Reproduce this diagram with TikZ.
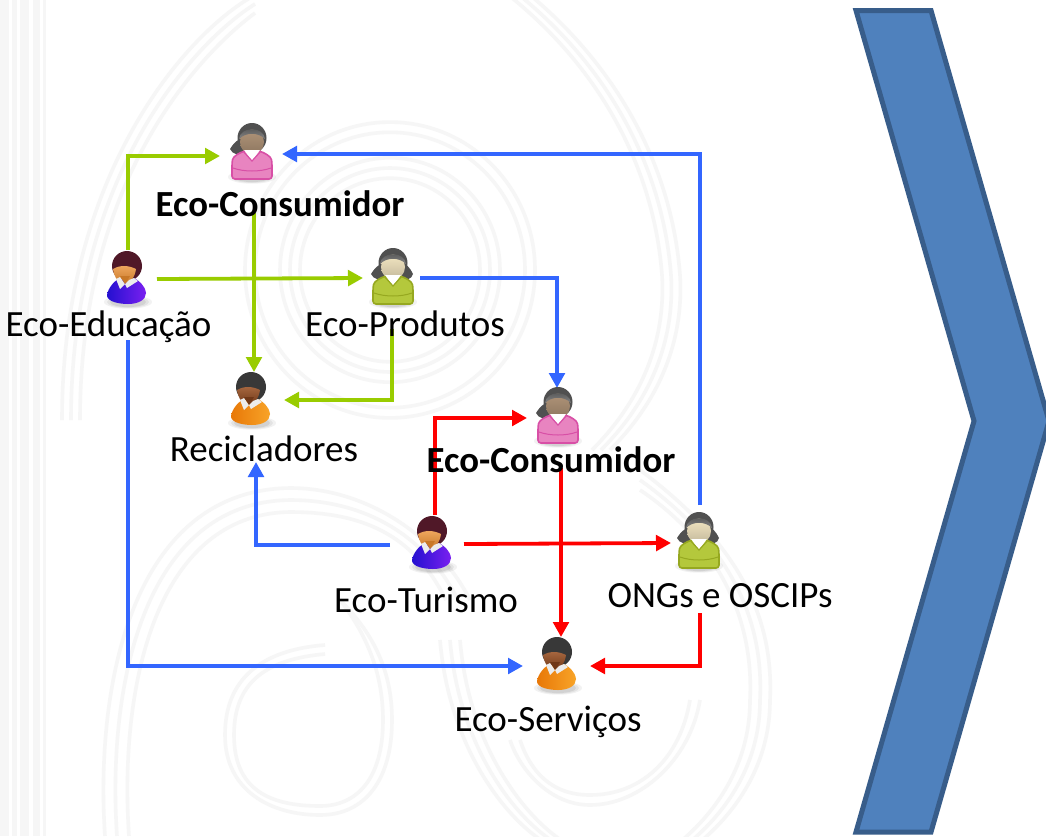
\documentclass[tikz,border=0pt]{standalone}
\usepackage{fontspec}
\setmainfont{Carlito}
\usetikzlibrary{arrows.meta}
\definecolor{wm}{HTML}{F6F6F6}
\definecolor{gline}{HTML}{99CC00}
\definecolor{bline}{HTML}{3366FF}
\definecolor{rline}{HTML}{FF0000}
\definecolor{chevfill}{HTML}{4F81BD}
\definecolor{chevedge}{HTML}{385D8A}
\definecolor{pinkL}{HTML}{E884C0}
\definecolor{pinkD}{HTML}{D84FA6}
\definecolor{skinW}{HTML}{B09478}
\definecolor{hairW}{HTML}{505050}
\definecolor{oliveL}{HTML}{B4C83C}
\definecolor{oliveD}{HTML}{96A820}
\definecolor{skinG}{HTML}{F3E6C2}
\definecolor{blueL}{HTML}{7A20F0}
\definecolor{blueD}{HTML}{2410D0}
\definecolor{skinO}{HTML}{F0A860}
\definecolor{skinOd}{HTML}{C87828}
\definecolor{hairM}{HTML}{501828}
\definecolor{orangeL}{HTML}{F8A428}
\definecolor{orangeD}{HTML}{E87808}
\definecolor{skinB}{HTML}{A86840}
\definecolor{skinBd}{HTML}{703818}
\definecolor{hairK}{HTML}{383838}
\tikzset{
  anchorbox/.style={inner sep=0pt,outer sep=0pt,minimum size=1pt},
  lbl/.style={anchor=base,inner sep=0pt,font=\fontsize{37}{40}\selectfont,text=black},
  lblb/.style={lbl,font=\fontsize{36.8}{40}\selectfont\bfseries},
  conn/.style={line width=3.8pt,-{Triangle[length=15pt,width=15.5pt]}},
  gc/.style={conn,draw=gline},
  bc/.style={conn,draw=bline},
  rc/.style={conn,draw=rline},
  wmline/.style={draw=wm,line width=3.6pt},
  chev/.style={fill=chevfill,draw=chevedge,line width=5pt,miter limit=10}
}
% soft shadow below a figure
\newcommand{\softshadow}{%
  \foreach \r/\o in {24/.05,21/.06,18/.07}{\fill[black,opacity=\o] (0,24) ellipse ({\r pt} and {\r*0.28 pt});}%
}
% woman figure: #1 centre, #2 body light, #3 body dark, #4 skin, #5 hair, #6 = 1 for two plaits
\newcommand{\womanfig}[6]{%
\begin{scope}[shift={(#1)}]
  \softshadow
  \fill[#5] (-22,-4) .. controls (-17,-12) and (-13,-14) .. (-10,-14) -- (-9,-1) .. controls (-14,2) and (-19,2) .. cycle;
  \ifnum#6=1 \fill[#5] (20,-4) .. controls (16,-12) and (13,-14) .. (10,-14) -- (9,-1) .. controls (14,2) and (18,2) .. cycle;\fi
  \fill[#5] (0,-15) ellipse (14.5pt and 15pt);
  \shade[top color=#4,bottom color=#4!80!black] (0,-11) ellipse (12pt and 12.5pt);
  \shade[top color=#5,bottom color=#5!70!white] (-13,-14) .. controls (-12,-27) and (12,-27) .. (13,-14) .. controls (6,-21) and (-6,-21) .. cycle;
  \shade[top color=#2,middle color=#2!70!white,bottom color=#2,draw=#3,line width=1.6pt,rounded corners=3pt]
    (-20,26) -- (-20,10) .. controls (-19,3) and (-12,0) .. (-8,-2) -- (8,-2) .. controls (12,0) and (19,3) .. (20,10) -- (20,26) -- cycle;
  \draw[#3,line width=1pt] (-19,15) .. controls (-8,19) and (8,19) .. (19,15);
  \fill[white] (-8,-3) -- (8,-3) -- (0,8) -- cycle;
  \draw[#3,line width=1.2pt] (-9,-2) -- (0,8) -- (9,-2);
\end{scope}}
% man figure: #1 centre, #2 shirt light, #3 shirt dark, #4 skin, #5 skin dark, #6 hair
\newcommand{\manfig}[6]{%
\begin{scope}[shift={(#1)}]
  \softshadow
  \fill[#6] (-1,-12) circle (15pt);
  \shade[top color=#4,bottom color=#5] (-15,-9) .. controls (-14,-1) and (-9,6) .. (-4,6) .. controls (2,6) and (7,-1) .. (8,-9) .. controls (0,-13) and (-8,-13) .. cycle;
  \shade[left color=#3,right color=#2]
    (-8,0) .. controls (-16,4) and (-21,13) .. (-21,18) .. controls (-20,24) and (-8,26) .. (0,26) .. controls (10,26) and (18,22) .. (18,15) .. controls (17,7) and (10,2) .. (6,0) -- (0,6) -- cycle;
  \fill[white!85!gray] (-12,1) -- (-8,-1) -- (-3,6) -- (-8,11) -- cycle;
  \fill[white!85!gray] (1,2) -- (6,0) -- (10,3) -- (-1,10) -- (-3,6) -- cycle;
  \fill[#5] (-8,-2) -- (2,-2) -- (-3,6) -- cycle;
\end{scope}}
\begin{document}
\begin{tikzpicture}[x=1pt,y=-1pt]
\clip (0,0) rectangle (1046,836);
\fill[white] (0,0) rectangle (1046,836);

% ---- watermark ----
\fill[wm] (0,0) rectangle (46,836);
\foreach \sx/\sw in {9/3,17/3,29/4,40/3}{\fill[white] (\sx,0) rectangle ++(\sw,836);}
\foreach \r in {0,9,18}{
  \draw[wmline] (62+\r,420) .. controls (62+\r,170) and (190+\r,30+\r) .. (255,-5+\r);
  \draw[wmline] (530-\r*1.2,-5) .. controls (620-\r,70) and (672-\r,170) .. (680-\r,275) .. controls (684-\r,340) and (660-\r,400) .. (610-\r,450);
}
\foreach \r in {90,100,110,135,145}{
  \draw[wmline] (390,270) circle ({\r pt} and {\r*1.02 pt});
}
\foreach \r in {0,12,24}{
  \draw[wmline] (105+\r,836) .. controls (95+\r,690) and (130+\r,490+\r) .. (290,488+\r) .. controls (370,488+\r) and (440-\r,540) .. (470-\r,600);
}
\foreach \r in {0,9}{
  \draw[wmline] (325,645+\r) .. controls (260+\r,650+\r) and (225+\r,680) .. (225+\r,735) .. controls (225+\r,790) and (270,815-\r) .. (320,815-\r) .. controls (365-\r,815-\r) and (392-\r,780) .. (392-\r,720) .. controls (392-\r,680) and (380-\r,640) .. (340,600);
}
\foreach \r in {0,10,20}{
  \draw[wmline] (440+\r,640) .. controls (450+\r,760) and (520+\r,836) .. (560+\r,850);
  \draw[wmline] (770-\r,700) .. controls (775-\r,600) and (720-\r,530) .. (640,470+\r);
  \draw[wmline] (770-\r,700) .. controls (770-\r,770) and (730-\r,820) .. (690-\r,850);
}
\foreach \r in {0,10}{
  \draw[wmline] (700-\r,700) .. controls (690-\r,760) and (640,805-\r) .. (590,805-\r) .. controls (550,805-\r) and (520+\r,770) .. (510+\r,740);
}

% ---- chevron ----
\node[anchorbox] (chevtip) at (1049,421) {};
\node[anchorbox] (chevnotch) at (974,421) {};
\draw[chev] (856,10.5) -- (931,10.5) -- (chevtip.center) -- (931,832) -- (856,832) -- (chevnotch.center) -- cycle;

% ---- anchors of the figures ----
\node[anchorbox] (c1) at (252,153) {};
\node[anchorbox] (edu) at (128,278) {};
\node[anchorbox] (prod) at (393,278) {};
\node[anchorbox] (rec) at (252,399) {};
\node[anchorbox] (c2) at (558,417) {};
\node[anchorbox] (tur) at (433,543) {};
\node[anchorbox] (ong) at (699,542) {};
\node[anchorbox] (serv) at (558,664) {};

% ---- connectors ----
\draw[gc] ([shift={(0,-28)}]edu.center) |- ([shift={(-32,3)}]c1.center);
\draw[bc] ([shift={(1,-37)}]ong.center) |- ([shift={(30,1)}]c1.center);
\draw[gc] ([shift={(29,1)}]edu.center) -- ([shift={(-30,0)}]prod.center);
\draw[gc] ([shift={(2,60)}]c1.center) -- ([shift={(2,-27)}]rec.center);
\draw[gc] ([shift={(-1,51)}]prod.center) |- ([shift={(32,1)}]rec.center);
\draw[bc] ([shift={(27,0)}]prod.center) -| ([shift={(-1,-29)}]c2.center);
\draw[rc] ([shift={(2,-28)}]tur.center) |- ([shift={(-31,1)}]c2.center);
\draw[rc] ([shift={(31,1)}]tur.center) -- ([shift={(-28,1)}]ong.center);
\draw[rc] ([shift={(3,51)}]c2.center) -- ([shift={(3,-27)}]serv.center);
\draw[rc] ([shift={(1,71)}]ong.center) |- ([shift={(32,2)}]serv.center);
\draw[bc] ([shift={(0,62)}]edu.center) |- ([shift={(-35,2)}]serv.center);
\draw[bc] ([shift={(-43,2)}]tur.center) -| ([shift={(4,63)}]rec.center);

% ---- figures ----
\womanfig{c1}{pinkL}{pinkD}{skinW}{hairW}{0}
\womanfig{c2}{pinkL}{pinkD}{skinW}{hairW}{0}
\womanfig{prod}{oliveL}{oliveD}{skinG}{hairW}{1}
\womanfig{ong}{oliveL}{oliveD}{skinG}{hairW}{1}
\manfig{edu}{blueL}{blueD}{skinO}{skinOd}{hairM}
\manfig{tur}{blueL}{blueD}{skinO}{skinOd}{hairM}
\manfig{rec}{orangeL}{orangeD}{skinB}{skinBd}{hairK}
\manfig{serv}{orangeL}{orangeD}{skinB}{skinBd}{hairK}

% ---- labels ----
\node[lblb] (l1) at (280,216) {Eco-Consumidor};
\node[lbl] (l2) at (108.5,336) {Eco-Educação};
\node[lbl] (l3) at (405,336) {Eco-Produtos};
\node[lbl] (l4) at (264,461) {Recicladores};
\node[lblb] (l5) at (551,472) {Eco-Consumidor};
\node[lbl] (l6) at (426,612) {Eco-Turismo};
\node[lbl] (l7) at (720,607) {ONGs e OSCIPs};
\node[lbl] (l8) at (548,731) {Eco-Serviços};
\end{tikzpicture}
\end{document}
